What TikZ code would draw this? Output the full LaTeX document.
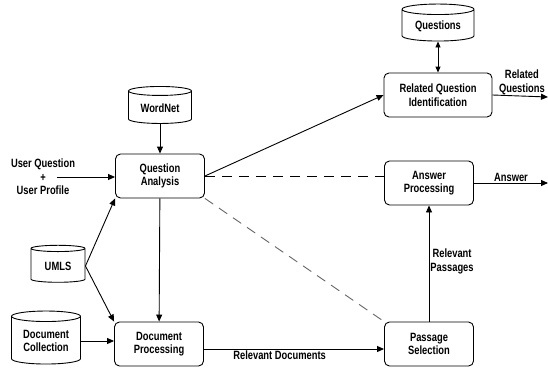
\documentclass[tikz,border=0pt]{standalone}
\usepackage{fontspec}
\setmainfont{Liberation Sans}[FakeStretch=0.78]
\usetikzlibrary{shapes.geometric,arrows.meta}
\tikzset{
  box/.style={draw, rounded corners=5pt, line width=0.9pt, minimum width=89pt,
    minimum height=44pt, align=center, inner sep=1pt},
  db/.style={draw, cylinder, shape border rotate=90, aspect=0.22, line width=0.9pt,
    align=center, inner sep=1pt},
  lbl/.style={align=center, inner sep=1pt},
  flow/.style={line width=0.9pt, -{Triangle[length=7pt,width=6pt]}}
}
\begin{document}
\begin{tikzpicture}[x=1pt,y=-1pt,font=\fontsize{12}{13.5}\selectfont\bfseries]
  \useasboundingbox (0,0) rectangle (548,369);
  % stores
  \node [db, minimum width=63pt, minimum height=37pt] (wordnet) at (160,108) {WordNet};
  \node [db, minimum width=54pt, minimum height=37pt] (umls) at (58,266) {UMLS};
  \node [db, minimum width=69pt, minimum height=53pt] (doccol) at (46,341) {Document\\Collection};
  \node [db, minimum width=72pt, minimum height=37pt] (questions) at (438,26) {Questions};
  % processing steps
  \node [box] (qa) at (160,176) {Question\\Analysis};
  \node [box] (dp) at (159,344) {Document\\Processing};
  \node [box] (ps) at (429,344) {Passage\\Selection};
  \node [box] (ap) at (429,183) {Answer\\Processing};
  \node [box, minimum width=108pt] (rqi) at (438,95) {Related Question\\Identification};
  % inputs and outputs
  \node [lbl] (userin) at (43,177) {User Question\\+\\User Profile};
  \coordinate (in) at (57,177);
  \coordinate (outrq) at (548,97);
  \coordinate (outans) at (548,183);
  \draw [flow] (wordnet) -- (qa);
  \draw [flow] (in) -- (in -| qa.west);
  \draw [flow] (umls.east) -- (qa.south west);
  \draw [flow] (umls.east) -- (dp.north west);
  \draw [flow] (doccol.east) -- (doccol.east -| dp.west);
  \draw [flow] (qa) -- (dp);
  \draw [flow] (qa.east) -- (rqi.west);
  \draw [line width=0.9pt, {Triangle[length=6pt,width=5pt]}-{Triangle[length=6pt,width=5pt]}] (questions) -- (rqi);
  \draw [flow] (rqi.east) -- node [lbl, above, pos=0.53] {Related\\Questions} (outrq);
  \draw [flow] (ap.east) -- node [lbl, above] {Answer} (outans);
  \draw [flow] (dp.east |- 0,349) -- node [lbl, below, pos=0.42] {Relevant Documents} (ps.west |- 0,349);
  \draw [flow] (ps) -- node [lbl, right, pos=0.52] {Relevant\\Passages} (ap);
  \draw [line width=0.9pt, dashed, dash pattern=on 10pt off 7pt] (qa.east) -- (qa.east -| ap.west);
  \draw [line width=0.9pt, dashed, dash pattern=on 10pt off 7pt, black!60] (qa.south east) -- (ps.north west);
\end{tikzpicture}
\end{document}
